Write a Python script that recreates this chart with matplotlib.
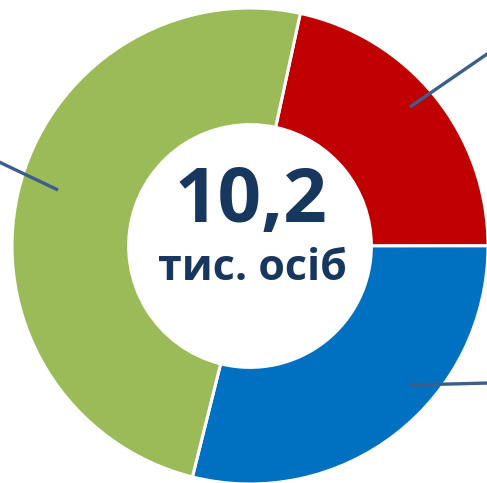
import matplotlib
matplotlib.use( "Agg" )
import matplotlib.pyplot as plt
import numpy as np

# частки (%) у порядку за годинниковою стрілкою від першого сектора
categories = ["red", "blue", "green"]
shares = [21.6, 28.9, 49.5]
colors = ["#C00000", "#0070C0", "#9BBB59"]
total_label = "10,2"
unit_label = "тис. осіб"

W, H = 487, 483
CX, CY, R = 250, 246, 238    # центр і радіус кола в пікселях (від верхнього лівого кута)

fig = plt.figure( figsize=( W / 100, H / 100 ), dpi=100 )
ax = fig.add_axes( [0, 0, 1, 1] )

ax.pie( shares, colors=colors, startangle=77.8, counterclock=False,
        radius=1.0, wedgeprops=dict( width=0.49, edgecolor="white", linewidth=2.2 ) )

ax.set_xlim( -CX / R, ( W - CX ) / R )
ax.set_ylim( ( CY - H ) / R, CY / R )
ax.set_aspect( "auto" )
ax.axis( "off" )

# лінії-виноски (підписи за межами кадру)
def px( x, y ):
    return ( x - CX ) / R, ( CY - y ) / R

leaders = [
    ( ( 410, 107 ), ( 490, 52 ) ),
    ( ( 410, 385 ), ( 490, 383 ) ),
    ( ( 58, 190 ), ( -3, 161 ) ),
]
for a, b in leaders:
    x0, y0 = px( *a )
    x1, y1 = px( *b )
    ax.plot( [x0, x1], [y0, y1], color="#3B5E8C", linewidth=2.4, solid_capstyle="butt", clip_on=False )

tx, ty = px( 251, 203 )
ax.text( tx, ty, total_label, ha="center", va="center", fontsize=55, fontweight="bold",
         color="#17375E", family=["Open Sans", "DejaVu Sans"] )
tx, ty = px( 252, 268 )
ax.text( tx, ty, unit_label, ha="center", va="center", fontsize=31, fontweight="bold",
         color="#17375E", family=["Open Sans", "DejaVu Sans"] )

fig.savefig( "out.png", dpi=100 )
